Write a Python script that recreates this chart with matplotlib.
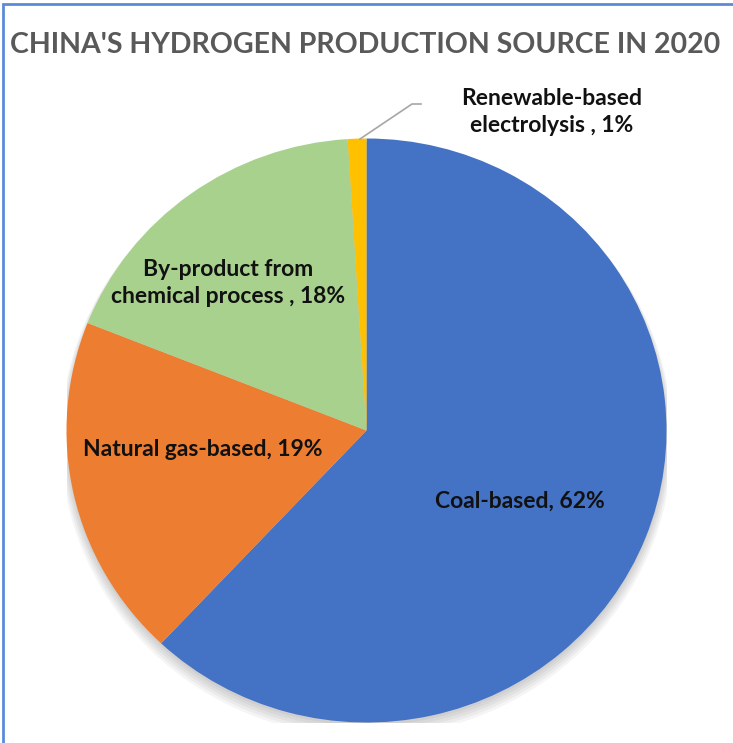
import matplotlib
matplotlib.use("Agg")
import matplotlib.pyplot as plt
from matplotlib.patches import Rectangle, Circle

categories = ["Coal-based", "Natural gas-based", "By-product from\nchemical process ", "Renewable-based\nelectrolysis "]
shares = [62, 19, 18, 1]
colors = ["#4472C4", "#ED7D31", "#A9D18E", "#FFC000"]
title = "CHINA'S HYDROGEN PRODUCTION SOURCE IN 2020"

W, H = 733, 743
fig = plt.figure(figsize=(W / 100, H / 100), dpi=100)
fig.patch.set_facecolor("white")

# figure border (visible left and top)
fig.patches.append(Rectangle((3 / W, -0.1), 1.2, 1.1 - 4 / H, transform=fig.transFigure,
                             fill=False, edgecolor="#5B8BD8", linewidth=2.0))

cx, cy, rx, ry = 366.5, 430.5, 300, 292
ax = fig.add_axes([(cx - rx) / W, (H - cy - ry) / H, 2 * rx / W, 2 * ry / H])

# soft shadow
for i in range(5):
    ax.add_patch(Circle((0, -0.010 - 0.005 * i), 1.0 + 0.005 * i, color="black", alpha=0.04,
                        zorder=0, linewidth=0))

wedges, _ = ax.pie(shares, colors=colors, startangle=90, counterclock=False, radius=1.0,
                   wedgeprops=dict(linewidth=0))
for w in wedges:
    w.set_zorder(2)
ax.set_xlim(-1, 1)
ax.set_ylim(-1, 1)
ax.set_aspect("auto")
ax.axis("off")

labels = [f"{c}, {s}%" for c, s in zip(categories, shares)]
font = dict(family=["Lato", "DejaVu Sans"], fontweight="bold", fontsize=16.5, color="#111111",
            ha="center", va="center", linespacing=1.3)

def to_ax(px, py):
    return ((px - cx) / rx, (cy - py) / ry)

ax.text(*to_ax(520, 501), labels[0], zorder=5, **font)
ax.text(*to_ax(203, 449), labels[1], zorder=5, **font)
ax.text(*to_ax(228, 283), labels[2], zorder=5, **font)
ax.text(*to_ax(552, 112), labels[3], zorder=5, clip_on=False, **font)

# leader line for the small slice
pts = [to_ax(360, 139), to_ax(412, 104), to_ax(421, 104)]
ax.plot([p[0] for p in pts], [p[1] for p in pts], color="#A6A6A6", linewidth=1.2,
        clip_on=False, zorder=4)

fig.text(365 / W, 1 - 45 / H, title, family=["Lato", "DejaVu Sans"], fontweight="bold",
         fontsize=20.5, color="#595959", ha="center", va="center")

fig.savefig("out.png", dpi=100, facecolor="white")
